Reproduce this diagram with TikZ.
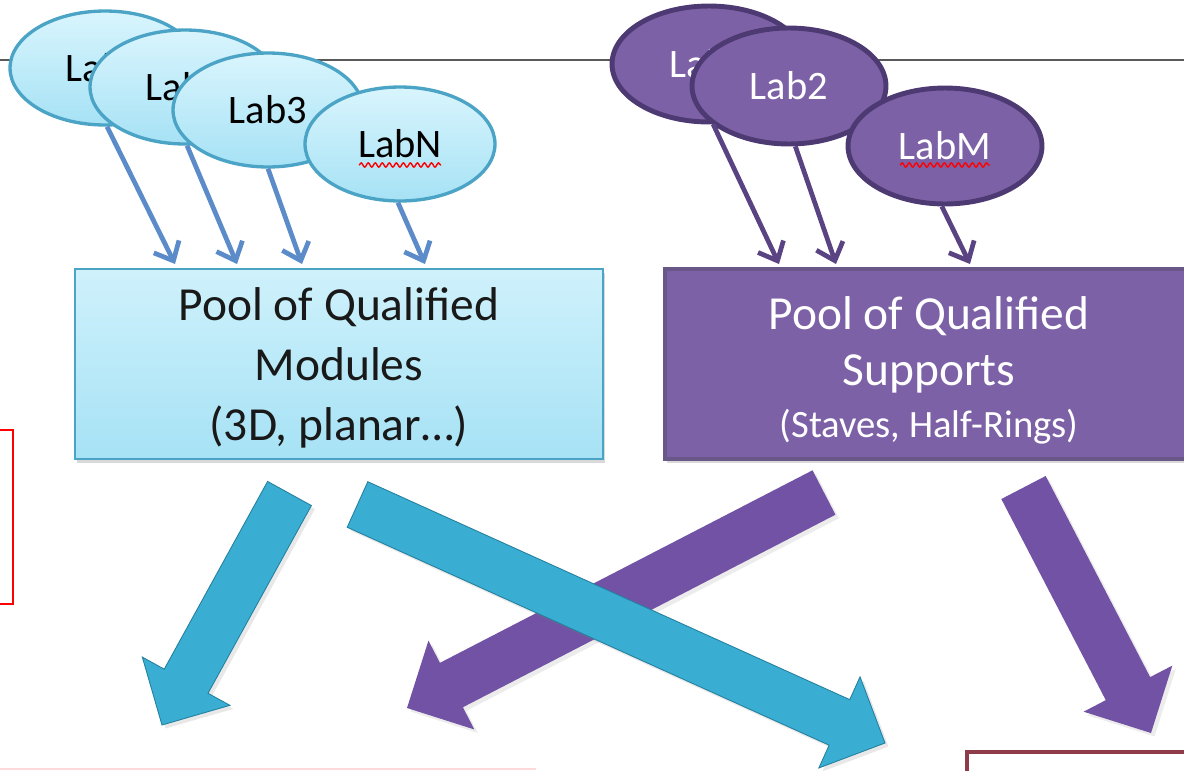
\documentclass[tikz,border=0pt]{standalone}
\usepackage{fontspec}
\setmainfont{Carlito}
\usetikzlibrary{shapes.geometric,arrows.meta,calc,shadows,decorations.pathmorphing}

\definecolor{skytop}{HTML}{D9F5FD}
\definecolor{skybot}{HTML}{A6E2F5}
\definecolor{skyedge}{HTML}{4BA4C6}
\definecolor{thinblue}{HTML}{5B8BC9}
\definecolor{plum}{HTML}{7D61A7}
\definecolor{plumedge}{HTML}{4E3A72}
\definecolor{plumline}{HTML}{5A4382}
\definecolor{fatblue}{HTML}{3AAED2}
\definecolor{fatblueedge}{HTML}{23809F}
\definecolor{fatplum}{HTML}{7252A4}
\definecolor{darkred}{HTML}{8E3B4A}

% block arrow from tail #1 to tip #2
\newcommand{\fatarrow}[3]{%
  \coordinate (fh) at ($(#2)!1cm!(#1)$);
  \path[#3] ($(#1)!0.5cm!90:(#2)$) -- ($(fh)!0.5cm!90:(#2)$) -- ($(fh)!1cm!90:(#2)$) -- (#2)
    -- ($(fh)!1cm!-90:(#2)$) -- ($(fh)!0.5cm!-90:(#2)$) -- ($(#1)!0.5cm!-90:(#2)$) -- cycle;}

\begin{document}
\begin{tikzpicture}[x=0.02cm,y=-0.02cm,
    bluelab/.style={ellipse,draw=skyedge,line width=1.9pt,top color=skytop,bottom color=skybot,
      minimum width=3.8cm,minimum height=2.28cm,inner sep=0pt,font=\fontsize{23}{26}\selectfont},
    plumlab/.style={ellipse,draw=plumedge,line width=2.8pt,fill=plum,text=white,
      minimum width=3.88cm,minimum height=2.32cm,inner sep=0pt,font=\fontsize{23}{26}\selectfont},
    pool/.style={rectangle,minimum width=10.56cm,minimum height=3.8cm,align=center,
      drop shadow={opacity=0.3,shadow xshift=1pt,shadow yshift=-2pt}},
    feed/.style={line width=2.7pt,-{Straight Barb[length=9pt,width=16pt]}},
    squiggle/.style={draw=red,line width=0.8pt,decorate,decoration={snake,amplitude=1.2pt,segment length=4pt}},
    bluefat/.style={fill=fatblue,draw=fatblueedge,line width=0.5pt,drop shadow={opacity=0.18,shadow xshift=2pt,shadow yshift=-2pt}},
    plumfat/.style={fill=fatplum,drop shadow={opacity=0.15,shadow xshift=2pt,shadow yshift=-2pt}}]

  \useasboundingbox (0,0) rectangle (1184,771);
  \clip (0,0) rectangle (1184,771);

  % rule across the top and the cut boxes at the edges
  \draw[line width=1.3pt,black!65] (0,60) -- (1184,60);
  \draw[red,line width=1.2pt] (-10,430) -- (13,430) -- (13,604) -- (-10,604);
  \draw[line width=1.2pt,red!15] (0,769) -- (536,769);
  \draw[line width=1.8pt,darkred] (967,800) -- (967,752) -- (1200,752);

  % labs
  \node[bluelab] (lab1) at (105,68) {Lab1};
  \node[bluelab] (lab2) at (185,87) {Lab2};
  \node[bluelab] (lab3) at (268,110) {Lab3};
  \node[bluelab] (labn) at (400,144) {LabN};
  \draw[squiggle] ([shift={(-41,21)}]labn.center) -- ([shift={(41,21)}]labn.center);

  \node[plumlab] (labp1) at (709,64) {Lab1};
  \node[plumlab] (labp2) at (789,86) {Lab2};
  \node[plumlab] (labm) at (945,146) {LabM};
  \draw[squiggle] ([shift={(-45,19)}]labm.center) -- ([shift={(45,19)}]labm.center);

  % pools
  \node[pool,draw=skyedge,line width=1.6pt,top color=skytop!80!skybot,bottom color=skybot,text=black!90,
    font=\fontsize{27}{34}\selectfont] (mods) at (339,364)
    {\rule{0pt}{23pt}Pool of Qualified\\Modules\\(3D, planar…)};
  \node[pool,draw=plumedge!85,line width=2.4pt,fill=plum,text=white,font=\fontsize{27}{32}\selectfont]
    (sups) at (929,364)
    {\rule{0pt}{26pt}Pool of Qualified\\Supports\\[-2pt]{\fontsize{22}{26}\selectfont (Staves, Half-Rings)}};

  \coordinate (m1) at (175,264);
  \coordinate (m2) at (237,264);
  \coordinate (m3) at (302,264);
  \coordinate (m4) at (425,264);
  \coordinate (s1) at (779,264);
  \coordinate (s2) at (836,264);
  \coordinate (s3) at (970,264);

  \draw[feed,thinblue] (lab1.-88) -- (m1);
  \draw[feed,thinblue] (lab2.-88) -- (m2);
  \draw[feed,thinblue] (lab3.south) -- (m3);
  \draw[feed,thinblue] (labn.-92) -- (m4);
  \draw[feed,plumline] (labp1.-86) -- (s1);
  \draw[feed,plumline] (labp2.-84) -- (s2);
  \draw[feed,plumline] (labm.-93) -- (s3);

  % outputs of the pools
  \coordinate (fa1) at (289.5,493.5);
  \coordinate (fa2) at (162,725);
  \coordinate (fb1) at (357.5,504.5);
  \coordinate (fb2) at (885,743);
  \coordinate (fc1) at (824,492.5);
  \coordinate (fc2) at (407,708);
  \coordinate (fd1) at (1023.5,487.5);
  \coordinate (fd2) at (1151,733);

  \fatarrow{fa1}{fa2}{bluefat}
  \fatarrow{fc1}{fc2}{plumfat}
  \fatarrow{fb1}{fb2}{bluefat}
  \fatarrow{fd1}{fd2}{plumfat}
\end{tikzpicture}
\end{document}
